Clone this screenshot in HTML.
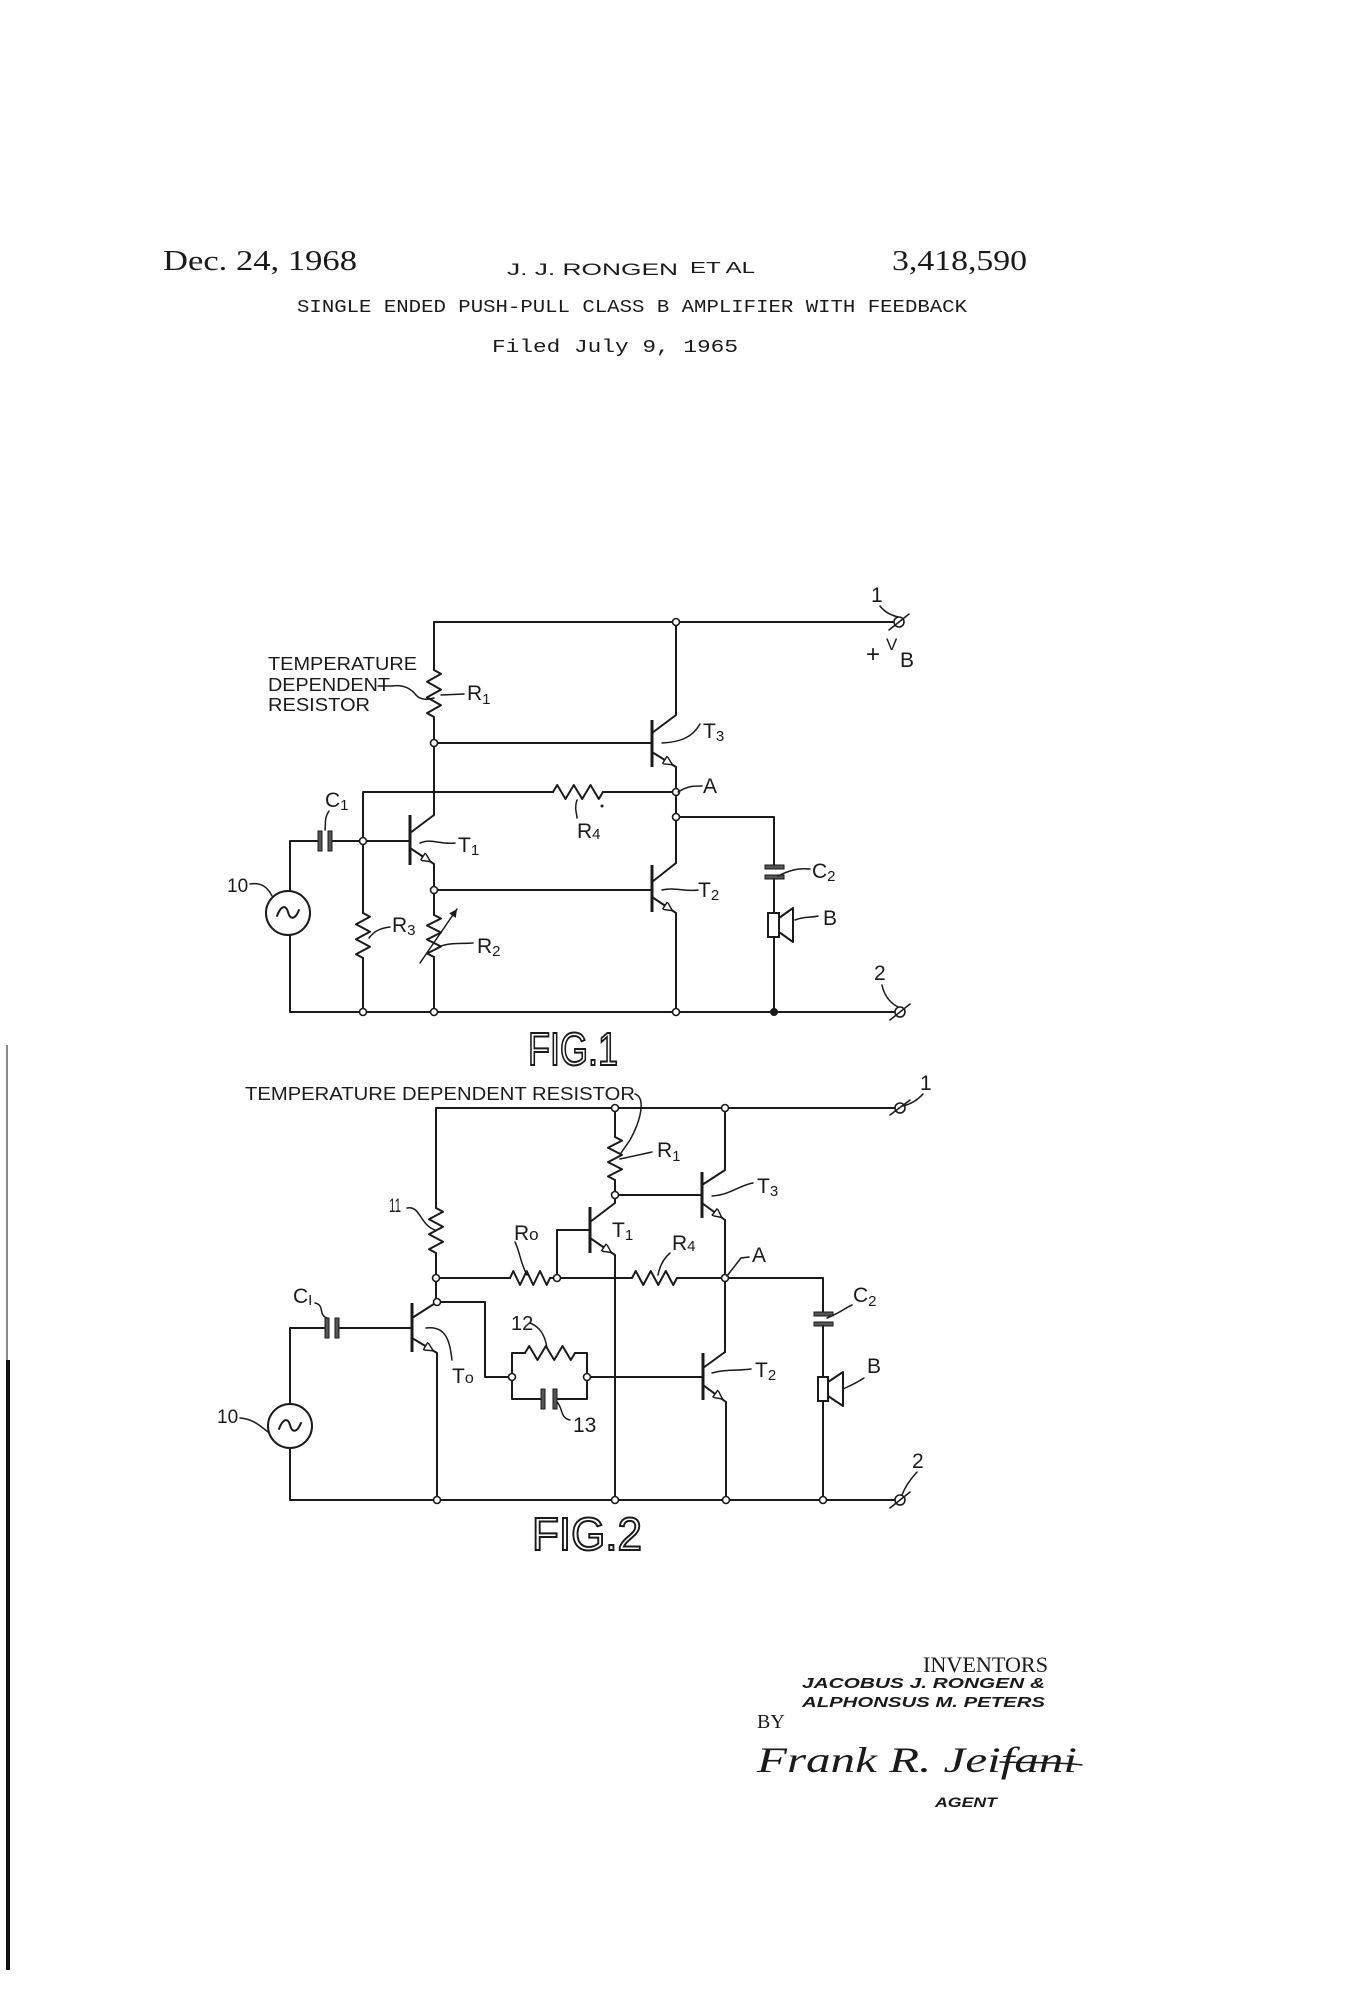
<!DOCTYPE html>
<html><head><meta charset="utf-8">
<style>
html,body{margin:0;padding:0;background:#fff;}
svg{display:block;}
text{font-family:"Liberation Sans",sans-serif;fill:#1a1a1a;}
.w{fill:none;stroke:#1a1a1a;stroke-width:2;stroke-linejoin:round;stroke-linecap:round;}
.t{fill:none;stroke:#1a1a1a;stroke-width:1.5;stroke-linecap:round;}
.bar{stroke:#1a1a1a;stroke-width:3;}
.n{fill:#fff;stroke:#1a1a1a;stroke-width:1.6;}
.cap{fill:#555;stroke:#1a1a1a;stroke-width:1;}
.lb{font-size:21px;}
.sb{font-size:15px;}
.fig{font-size:46px;fill:#fff;stroke:#1a1a1a;stroke-width:2;}
</style></head>
<body>
<svg width="1362" height="2000" viewBox="0 0 1362 2000" xmlns="http://www.w3.org/2000/svg">
<defs>
<marker id="ar" markerUnits="userSpaceOnUse" markerWidth="11" markerHeight="9" viewBox="0 0 10 10" refX="10" refY="5" orient="auto">
<path d="M0,0 L10,5 L0,10 z" fill="#fff" stroke="#1a1a1a" stroke-width="1.6"/>
</marker>
<marker id="af" markerUnits="userSpaceOnUse" markerWidth="10" markerHeight="8" viewBox="0 0 10 10" refX="10" refY="5" orient="auto">
<path d="M0,0 L10,5 L0,10 z" fill="#1a1a1a"/>
</marker>
</defs>
<rect width="1362" height="2000" fill="#fff"/>

<!-- left edge line -->
<rect x="6" y="1045" width="2" height="320" fill="#888"/>
<rect x="6" y="1360" width="4" height="610" fill="#111"/>

<!-- HEADER -->
<text x="163" y="270" font-family="Liberation Serif" style="font-family:'Liberation Serif',serif" font-size="28" textLength="194" lengthAdjust="spacingAndGlyphs">Dec. 24, 1968</text>
<text x="507" y="275" font-size="17" textLength="171" lengthAdjust="spacingAndGlyphs">J. J. RONGEN</text>
<text x="690" y="273" font-size="16" textLength="65" lengthAdjust="spacingAndGlyphs">ET AL</text>
<text x="892" y="270" style="font-family:'Liberation Serif',serif" font-size="28" textLength="135" lengthAdjust="spacingAndGlyphs">3,418,590</text>
<text x="297" y="312" style="font-family:'Liberation Mono',monospace" font-size="18" textLength="670" lengthAdjust="spacingAndGlyphs">SINGLE ENDED PUSH-PULL CLASS B  AMPLIFIER WITH FEEDBACK</text>
<text x="492" y="352" style="font-family:'Liberation Mono',monospace" font-size="18" textLength="246" lengthAdjust="spacingAndGlyphs">Filed July 9, 1965</text>

<!-- ================= FIG 1 ================= -->
<!-- top rail -->
<path class="w" d="M434,670 L434,622 L894,622"/>
<!-- R1 -->
<polyline class="w" points="434,670 441,673.9 427,681.8 441,689.6 427,697.4 441,705.2 427,713.1 434,717"/>
<path class="w" d="M434,717 L434,815"/>
<!-- base line T3 -->
<path class="w" d="M434,743 L652,743"/>
<!-- T3 -->
<line class="bar" x1="652" y1="720" x2="652" y2="767"/>
<path class="w" d="M652,733 L676,715 L676,622"/>
<path class="w" d="M652,752 L676,767 L676,863"/>
<line class="w" x1="664" y1="759.5" x2="672.4" y2="764.75" marker-end="url(#ar)"/>
<!-- T1 -->
<line class="bar" x1="410" y1="815" x2="410" y2="865"/>
<path class="w" d="M410,833 L434,815"/>
<path class="w" d="M410,848 L434,864 L434,915"/>
<line class="w" x1="422" y1="856" x2="430.4" y2="861.6" marker-end="url(#ar)"/>
<!-- R2 variable -->
<polyline class="w" points="434,915 441,918.5 427,925.5 441,932.5 427,939.5 441,946.5 427,953.5 434,957"/>
<path class="w" d="M434,957 L434,1012"/>
<line class="t" x1="420" y1="963" x2="457" y2="909" marker-end="url(#af)"/>
<!-- T2 -->
<path class="w" d="M434,890 L652,890"/>
<line class="bar" x1="652" y1="865" x2="652" y2="912"/>
<path class="w" d="M652,882 L676,863"/>
<path class="w" d="M652,897 L676,913 L676,1012"/>
<line class="w" x1="664" y1="905" x2="672.4" y2="910.6" marker-end="url(#ar)"/>
<!-- feedback line with R4 -->
<path class="w" d="M363,841 L363,792 L553,792"/>
<polyline class="w" points="553,792 557.2,785 565.5,799 573.8,785 582.2,799 590.5,785 598.8,799 603,792"/>
<path class="w" d="M603,792 L676,792"/>
<circle cx="602" cy="806" r="1.5" fill="#1a1a1a"/>
<!-- input line -->
<path class="w" d="M290,891 L290,841 L318,841"/>
<path class="w" d="M332,841 L410,841"/>
<rect class="cap" x="318" y="831" width="4" height="20"/>
<rect class="cap" x="328" y="831" width="4" height="20"/>
<!-- R3 -->
<path class="w" d="M363,841 L363,913"/>
<polyline class="w" points="363,913 370,916.75 356,924.25 370,931.75 356,939.25 370,946.75 356,954.25 363,958"/>
<path class="w" d="M363,958 L363,1012"/>
<!-- source -->
<circle cx="288" cy="913" r="22" class="w"/>
<path class="w" d="M277,916 C281,905 286,905 288,912 C290,920 295,920 299,910"/>
<path class="w" d="M290,935 L290,1012 L894,1012"/>
<!-- output -->
<path class="w" d="M676,817 L774,817 L774,865"/>
<rect class="cap" x="765" y="865" width="19" height="4"/>
<rect class="cap" x="765" y="875" width="19" height="4"/>
<path class="w" d="M774,879 L774,913"/>
<rect x="768" y="913" width="11" height="24" fill="#fff" stroke="#1a1a1a" stroke-width="2"/>
<path class="w" d="M779,918 L793,908 L793,942 L779,932"/>
<path class="w" d="M774,937 L774,1012"/>
<!-- nodes -->
<circle class="n" cx="676" cy="622" r="3.5"/>
<circle class="n" cx="434" cy="743" r="3.5"/>
<circle class="n" cx="363" cy="841" r="3.5"/>
<circle class="n" cx="434" cy="890" r="3.5"/>
<circle class="n" cx="676" cy="792" r="3.5"/>
<circle class="n" cx="676" cy="817" r="3.5"/>
<circle class="n" cx="363" cy="1012" r="3.5"/>
<circle class="n" cx="434" cy="1012" r="3.5"/>
<circle class="n" cx="676" cy="1012" r="3.5"/>
<circle cx="774" cy="1012" r="4" fill="#1a1a1a"/>
<!-- terminals -->
<circle class="n" cx="899" cy="622" r="5"/>
<line class="t" x1="889" y1="630" x2="909" y2="614"/>
<path class="t" d="M880,606 Q886,614 898,617"/>
<circle class="n" cx="900" cy="1012" r="5"/>
<line class="t" x1="890" y1="1020" x2="910" y2="1004"/>
<path class="t" d="M882,985 Q885,1000 898,1007"/>
<!-- leaders -->
<path class="t" d="M378,686 L392,686 C405,684 412,690 416,695 S428,700 434,698"/>
<path class="t" d="M441,695 L464,694"/>
<path class="t" d="M329,811 C324,818 326,824 325,830"/>
<path class="t" d="M420,843 C432,838 440,845 455,843"/>
<path class="t" d="M577,800 C574,808 577,814 577,818"/>
<path class="t" d="M250,884 C262,882 268,888 272,896"/>
<path class="t" d="M369,938 C375,930 382,928 390,927"/>
<path class="t" d="M437,948 C447,942 460,944 473,943"/>
<path class="t" d="M662,743 C680,742 692,738 700,724"/>
<path class="t" d="M678,792 C688,786 692,786 702,786"/>
<path class="t" d="M662,890 C675,887 685,892 698,890"/>
<path class="t" d="M778,876 C790,870 798,868 810,869"/>
<path class="t" d="M795,920 C805,916 810,918 818,916"/>
<!-- labels -->
<text x="268" y="670" font-size="18" textLength="149" lengthAdjust="spacingAndGlyphs">TEMPERATURE</text>
<text x="268" y="691" font-size="18" textLength="122" lengthAdjust="spacingAndGlyphs">DEPENDENT</text>
<text x="268" y="711" font-size="18" textLength="102" lengthAdjust="spacingAndGlyphs">RESISTOR</text>
<text x="467" y="700" class="lb">R<tspan class="sb" dy="4">1</tspan></text>
<text x="325" y="807" class="lb">C<tspan class="sb" dy="3">1</tspan></text>
<text x="458" y="852" class="lb">T<tspan class="sb" dy="3">1</tspan></text>
<text x="577" y="838" class="lb">R<tspan class="sb" dy="1">4</tspan></text>
<text x="227" y="892" font-size="19">10</text>
<text x="392" y="932" class="lb">R<tspan class="sb" dy="3">3</tspan></text>
<text x="477" y="953" class="lb">R<tspan class="sb" dy="3">2</tspan></text>
<text x="703" y="738" class="lb">T<tspan class="sb" dy="3">3</tspan></text>
<text x="703" y="793" class="lb">A</text>
<text x="698" y="897" class="lb">T<tspan class="sb" dy="3">2</tspan></text>
<text x="812" y="878" class="lb">C<tspan class="sb" dy="3">2</tspan></text>
<text x="823" y="925" class="lb">B</text>
<text x="871" y="602" font-size="21">1</text>
<text x="866" y="662" font-size="24">+</text>
<text x="886" y="650" font-size="17">V</text>
<text x="900" y="667" class="lb">B</text>
<text x="874" y="980" font-size="21">2</text>
<text x="528" y="1065" class="fig" textLength="90" lengthAdjust="spacingAndGlyphs">FIG.1</text>

<!-- ================= FIG 2 ================= -->
<text x="245" y="1100" font-size="18" textLength="390" lengthAdjust="spacingAndGlyphs">TEMPERATURE  DEPENDENT  RESISTOR</text>
<!-- top rail -->
<path class="w" d="M436,1208 L436,1108 L895,1108"/>
<!-- R11 -->
<polyline class="w" points="436,1208 443,1211.75 429,1219.25 443,1226.75 429,1234.25 443,1241.75 429,1249.25 436,1253"/>
<path class="w" d="M436,1253 L436,1302"/>
<!-- R1 -->
<path class="w" d="M615,1108 L615,1137"/>
<polyline class="w" points="615,1137 622,1140.6 608,1147.75 622,1154.9 608,1162.1 622,1169.25 608,1176.4 615,1180"/>
<path class="w" d="M615,1180 L615,1203 L590,1222"/>
<!-- T1 -->
<line class="bar" x1="590" y1="1207" x2="590" y2="1253"/>
<path class="w" d="M590,1238 L615,1255 L615,1500"/>
<line class="w" x1="602.5" y1="1246.5" x2="611.25" y2="1252.5" marker-end="url(#ar)"/>
<path class="w" d="M590,1230 L557,1230 L557,1278"/>
<!-- T3 -->
<path class="w" d="M615,1195 L702,1195"/>
<line class="bar" x1="702" y1="1172" x2="702" y2="1218"/>
<path class="w" d="M702,1185 L725,1170 L725,1108"/>
<path class="w" d="M702,1203 L725,1220 L725,1352"/>
<line class="w" x1="714" y1="1211.5" x2="721.7" y2="1217.5" marker-end="url(#ar)"/>
<!-- feedback line -->
<path class="w" d="M436,1278 L510,1278"/>
<polyline class="w" points="510,1278 513.3,1271 520,1285 526.7,1271 533.3,1285 540,1271 546.7,1285 550,1278"/>
<path class="w" d="M550,1278 L632,1278"/>
<polyline class="w" points="632,1278 635.75,1271 643.25,1285 650.75,1271 658.25,1285 665.75,1271 673.25,1285 677,1278"/>
<path class="w" d="M677,1278 L823,1278 L823,1312"/>
<!-- C2 & speaker -->
<rect class="cap" x="814" y="1312" width="19" height="4"/>
<rect class="cap" x="814" y="1322" width="19" height="4"/>
<path class="w" d="M823,1326 L823,1377"/>
<rect x="818" y="1377" width="10" height="24" fill="#fff" stroke="#1a1a1a" stroke-width="2"/>
<path class="w" d="M828,1382 L843,1372 L843,1406 L828,1396"/>
<path class="w" d="M823,1401 L823,1500"/>
<!-- T0 -->
<line class="bar" x1="412" y1="1303" x2="412" y2="1352"/>
<path class="w" d="M412,1318 L437,1302"/>
<path class="w" d="M412,1338 L437,1353 L437,1500"/>
<line class="w" x1="424.5" y1="1345.5" x2="433.25" y2="1350.75" marker-end="url(#ar)"/>
<path class="w" d="M437,1302 L485,1302 L485,1377 L512,1377"/>
<!-- network 12 // 13 -->
<path class="w" d="M512,1377 L512,1353 L525,1353"/>
<polyline class="w" points="525,1353 529.2,1346 537.5,1360 545.8,1346 554.2,1360 562.5,1346 570.8,1360 575,1353"/>
<path class="w" d="M575,1353 L587,1353 L587,1399 L557,1399"/>
<path class="w" d="M541,1399 L512,1399 L512,1377"/>
<rect class="cap" x="541" y="1389" width="4" height="20"/>
<rect class="cap" x="553" y="1389" width="4" height="20"/>
<!-- T2 -->
<path class="w" d="M587,1377 L703,1377"/>
<line class="bar" x1="703" y1="1353" x2="703" y2="1400"/>
<path class="w" d="M703,1368 L725,1352"/>
<path class="w" d="M703,1385 L726,1402 L726,1500"/>
<line class="w" x1="715" y1="1393.5" x2="722.5" y2="1399" marker-end="url(#ar)"/>
<!-- input -->
<path class="w" d="M290,1404 L290,1328 L325,1328"/>
<path class="w" d="M339,1328 L412,1328"/>
<rect class="cap" x="325" y="1318" width="4" height="20"/>
<rect class="cap" x="335" y="1318" width="4" height="20"/>
<circle cx="290" cy="1426" r="22" class="w"/>
<path class="w" d="M279,1429 C283,1418 288,1418 290,1425 C292,1433 297,1433 301,1423"/>
<path class="w" d="M290,1448 L290,1500 L895,1500"/>
<!-- nodes -->
<circle class="n" cx="615" cy="1108" r="3.5"/>
<circle class="n" cx="725" cy="1108" r="3.5"/>
<circle class="n" cx="615" cy="1195" r="3.5"/>
<circle class="n" cx="436" cy="1278" r="3.5"/>
<circle class="n" cx="557" cy="1278" r="3.5"/>
<circle class="n" cx="725" cy="1278" r="3.5"/>
<circle class="n" cx="437" cy="1302" r="3.5"/>
<circle class="n" cx="512" cy="1377" r="3.5"/>
<circle class="n" cx="587" cy="1377" r="3.5"/>
<circle class="n" cx="437" cy="1500" r="3.5"/>
<circle class="n" cx="615" cy="1500" r="3.5"/>
<circle class="n" cx="726" cy="1500" r="3.5"/>
<circle class="n" cx="823" cy="1500" r="3.5"/>
<!-- terminals -->
<circle class="n" cx="900" cy="1108" r="5"/>
<line class="t" x1="890" y1="1115" x2="910" y2="1100"/>
<path class="t" d="M923,1094 Q915,1103 903,1106"/>
<circle class="n" cx="900" cy="1500" r="5"/>
<line class="t" x1="890" y1="1508" x2="910" y2="1492"/>
<path class="t" d="M917,1472 Q906,1484 902,1495"/>
<!-- leaders -->
<path class="t" d="M635,1094 C646,1098 641,1120 630,1140 L621,1153"/>
<path class="t" d="M620,1159 L652,1152"/>
<path class="t" d="M407,1208 C420,1205 420,1225 435,1230"/>
<path class="t" d="M515,1242 C520,1252 520,1262 527,1275"/>
<path class="t" d="M670,1253 C664,1258 660,1265 658,1275"/>
<path class="t" d="M712,1196 C730,1195 740,1185 753,1183"/>
<path class="t" d="M727,1276 L741,1258 L749,1257"/>
<path class="t" d="M827,1318 C840,1313 845,1308 852,1305"/>
<path class="t" d="M843,1389 C852,1385 858,1382 864,1378"/>
<path class="t" d="M712,1373 C725,1369 738,1371 751,1369"/>
<path class="t" d="M557,1402 C563,1408 560,1418 570,1420"/>
<path class="t" d="M530,1323 C540,1327 545,1335 547,1348"/>
<path class="t" d="M315,1303 C325,1305 318,1315 327,1318"/>
<path class="t" d="M426,1328 C448,1325 450,1345 452,1360"/>
<path class="t" d="M240,1418 C252,1419 258,1424 268,1432"/>
<!-- labels -->
<text x="657" y="1157" class="lb">R<tspan class="sb" dy="4">1</tspan></text>
<text x="389" y="1212" font-size="19" textLength="12" lengthAdjust="spacingAndGlyphs">11</text>
<text x="514" y="1240" class="lb">R<tspan font-size="17" dy="0">o</tspan></text>
<text x="612" y="1237" class="lb">T<tspan class="sb" dy="3">1</tspan></text>
<text x="672" y="1250" class="lb">R<tspan class="sb" dy="1">4</tspan></text>
<text x="757" y="1193" class="lb">T<tspan class="sb" dy="3">3</tspan></text>
<text x="752" y="1262" class="lb">A</text>
<text x="853" y="1302" class="lb">C<tspan class="sb" dy="4">2</tspan></text>
<text x="867" y="1373" class="lb">B</text>
<text x="755" y="1377" class="lb">T<tspan class="sb" dy="3">2</tspan></text>
<text x="573" y="1432" font-size="21">13</text>
<text x="511" y="1330" font-size="20">12</text>
<text x="293" y="1303" class="lb">C<tspan class="sb" dy="2">I</tspan></text>
<text x="452" y="1383" class="lb">T<tspan font-size="16">o</tspan></text>
<text x="217" y="1423" font-size="19">10</text>
<text x="920" y="1090" font-size="21">1</text>
<text x="912" y="1468" font-size="21">2</text>
<text x="532" y="1550" class="fig" textLength="110" lengthAdjust="spacingAndGlyphs">FIG.2</text>

<!-- INVENTORS -->
<text x="923" y="1672" style="font-family:'Liberation Serif',serif" font-size="22" textLength="125" lengthAdjust="spacingAndGlyphs">INVENTORS</text>
<text x="802" y="1688" font-size="15" font-weight="bold" font-style="italic" textLength="243" lengthAdjust="spacingAndGlyphs">JACOBUS  J. RONGEN &amp;</text>
<text x="802" y="1707" font-size="15" font-weight="bold" font-style="italic" textLength="243" lengthAdjust="spacingAndGlyphs">ALPHONSUS  M. PETERS</text>
<text x="757" y="1728" style="font-family:'Liberation Serif',serif" font-size="20">BY</text>
<text x="757" y="1772" style="font-family:'Liberation Serif',serif" font-size="36" font-style="italic" textLength="320" lengthAdjust="spacingAndGlyphs">Frank R. Jeifani</text>
<path class="t" d="M1000,1762 C1030,1763 1060,1762 1082,1765"/>
<text x="935" y="1807" font-size="14" font-weight="bold" font-style="italic" textLength="62" lengthAdjust="spacingAndGlyphs">AGENT</text>
</svg>
</body></html>
